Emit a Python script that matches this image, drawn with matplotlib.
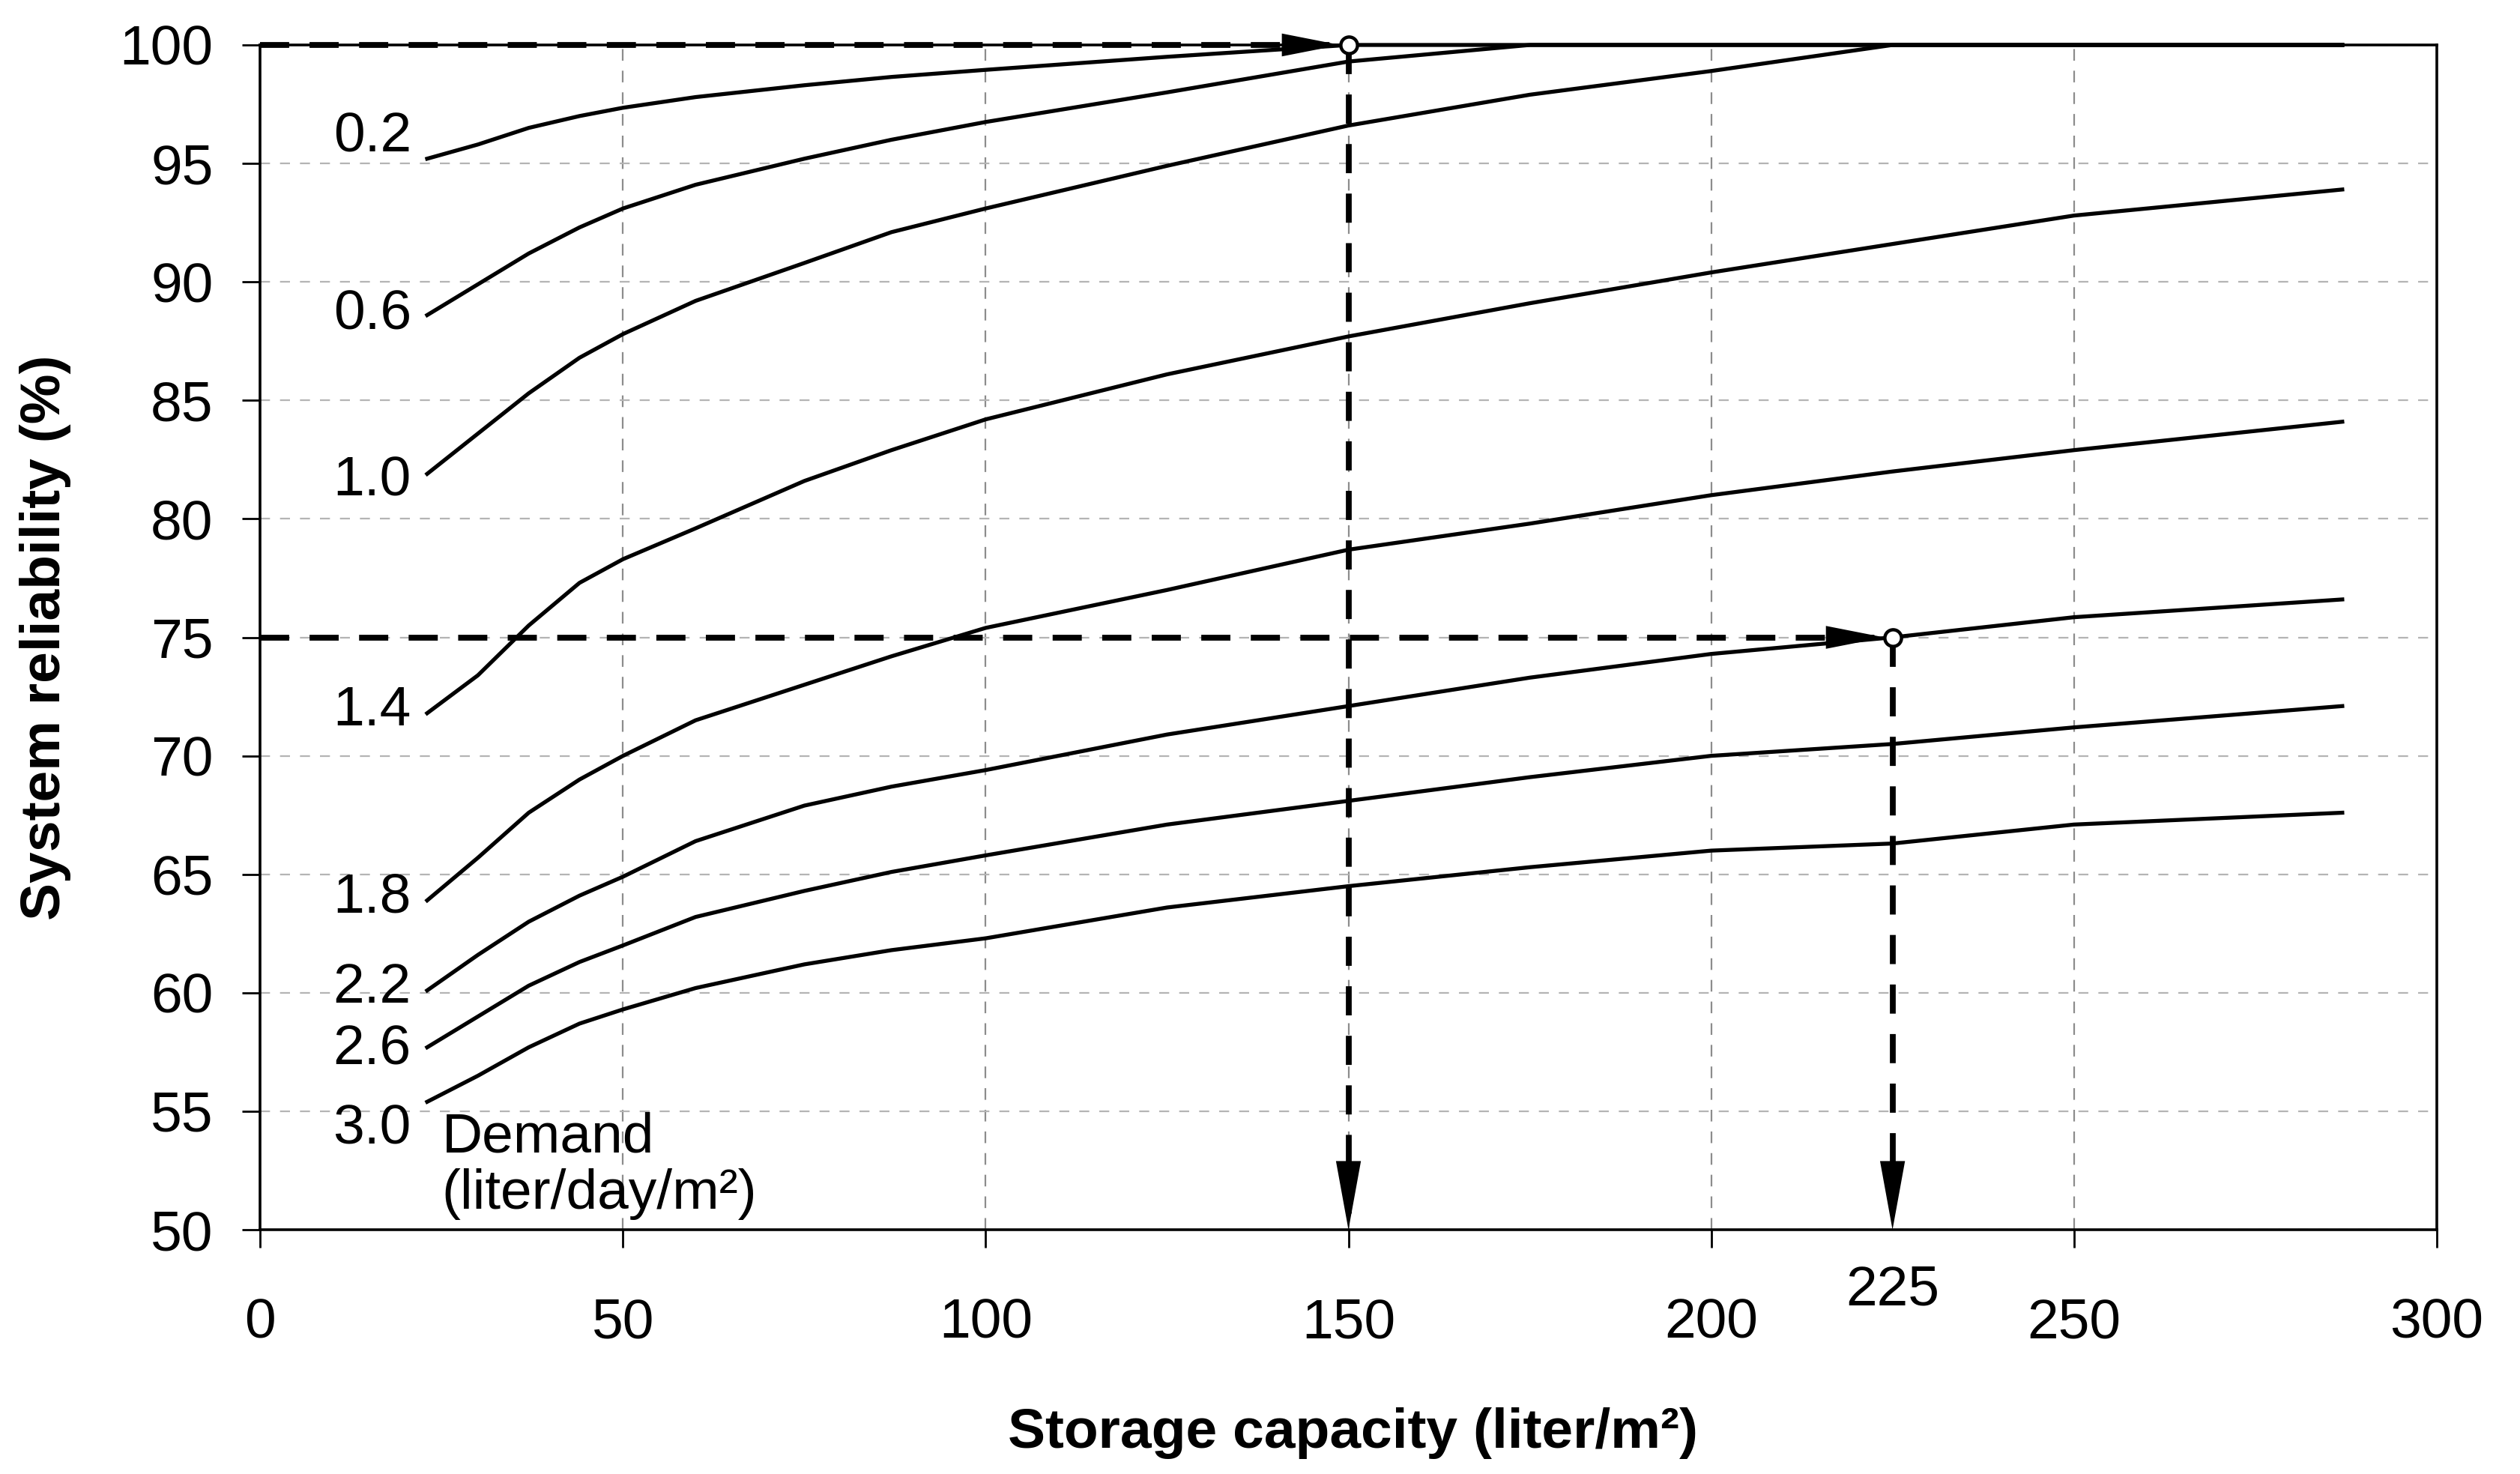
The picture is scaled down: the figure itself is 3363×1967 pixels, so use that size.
import matplotlib.pyplot as plt

plt.rcParams["font.family"] = ["Liberation Sans", "DejaVu Sans"]

# Storage capacity (liter/m2) at which the curves were read
storage = [23, 30, 37, 44, 50, 60, 75, 87, 100, 125, 150, 175, 200, 225, 250, 287]

# System reliability (%) for each daily demand (liter/day/m2)
demand_labels = ["0.2", "0.6", "1.0", "1.4", "1.8", "2.2", "2.6", "3.0"]
rel_02 = [95.2, 95.8, 96.5, 97.0, 97.35, 97.8, 98.3, 98.65, 98.95, 99.5,
          100, 100, 100, 100, 100, 100]
rel_06 = [88.6, 89.9, 91.2, 92.3, 93.1, 94.1, 95.2, 96.0, 96.75, 98.0,
          99.3, 100, 100, 100, 100, 100]
rel_10 = [81.9, 83.6, 85.3, 86.8, 87.8, 89.2, 90.8, 92.1, 93.1, 94.9,
          96.6, 97.9, 98.9, 100, 100, 100]
rel_14 = [71.8, 73.4, 75.5, 77.3, 78.3, 79.6, 81.6, 82.9, 84.2, 86.1,
          87.7, 89.1, 90.4, 91.6, 92.8, 93.9]
rel_18 = [63.9, 65.7, 67.6, 69.0, 70.0, 71.5, 73.0, 74.2, 75.4, 77.0,
          78.7, 79.8, 81.0, 82.0, 82.9, 84.1]
rel_22 = [60.1, 61.6, 63.0, 64.1, 64.9, 66.4, 67.9, 68.7, 69.4, 70.9,
          72.1, 73.3, 74.3, 75.0, 75.85, 76.6]
rel_26 = [57.7, 59.0, 60.3, 61.3, 62.0, 63.2, 64.3, 65.1, 65.8, 67.1,
          68.1, 69.1, 70.0, 70.5, 71.2, 72.1]
rel_30 = [55.4, 56.5, 57.7, 58.7, 59.3, 60.2, 61.2, 61.8, 62.3, 63.6,
          64.5, 65.3, 66.0, 66.3, 67.1, 67.6]
reliability = [rel_02, rel_06, rel_10, rel_14, rel_18, rel_22, rel_26, rel_30]

# where the demand labels sit (y, %)
label_y = [96.1, 88.6, 81.6, 71.9, 64.0, 60.2, 57.6, 54.25]

# the two worked examples: target reliability -> required storage
target_capacity = [150, 225]
target_reliability = [100, 75]

xticks = [0, 50, 100, 150, 200, 250, 300]
yticks = list(range(50, 101, 5))

fig = plt.figure(figsize=(16.815, 9.835), dpi=200)
ax = fig.add_axes([0.1033, 0.1657, 0.8636, 0.8038])

# grid
ax.set_axisbelow(True)
ax.xaxis.grid(True, color="#8c8c8c", lw=0.8, linestyle=(0, (7, 6)))
ax.yaxis.grid(True, color="#b4b4b4", lw=0.8, linestyle=(0, (6, 6)))

# demand curves
for rel, lab, ly in zip(reliability, demand_labels, label_y):
    ax.plot(storage, rel, color="k", lw=1.9, zorder=3, clip_on=False,
            solid_joinstyle="round")
    ax.text(20.8, ly, lab, ha="right", va="center", fontsize=27)

ax.text(25.0, 53.9, "Demand", ha="left", va="center", fontsize=27)
ax.text(25.0, 51.5, "(liter/day/m²)", ha="left", va="center", fontsize=27)

# worked examples: dashed guide lines with arrows
for xc, yc in zip(target_capacity, target_reliability):
    ax.plot([0, xc], [yc, yc], color="k", lw=2.8, dashes=(5, 3.5),
            zorder=4, clip_on=False)
    ax.plot([xc, xc], [yc, 50], color="k", lw=2.8, dashes=(5, 3.5),
            zorder=4, clip_on=False)
    ax.annotate("", xy=(xc, yc), xytext=(xc - 12, yc),
                arrowprops=dict(arrowstyle="-|>,head_length=2.8,head_width=0.55",
                                mutation_scale=10, color="k", lw=0,
                                shrinkA=0, shrinkB=4), zorder=5)
    ax.annotate("", xy=(xc, 50), xytext=(xc, 57),
                arrowprops=dict(arrowstyle="-|>,head_length=3.3,head_width=0.6",
                                mutation_scale=10, color="k", lw=0,
                                shrinkA=0, shrinkB=0), zorder=5)
    ax.plot(xc, yc, "o", ms=8, mfc="white", mec="k", mew=1.6,
            zorder=6, clip_on=False)
    if xc not in xticks:
        ax.text(xc, -0.051, str(xc), transform=ax.get_xaxis_transform(),
                ha="center", va="center", fontsize=27)

ax.set_xlim(0, 300)
ax.set_ylim(50, 100)
ax.set_xticks(xticks)
ax.set_yticks(yticks)
ax.tick_params(direction="out", length=8.6, width=1.0, labelsize=27)
ax.tick_params(axis="x", pad=24)
ax.tick_params(axis="y", pad=14)
for s in ax.spines.values():
    s.set_linewidth(1.3)
    s.set_color("k")

ax.set_xlabel("Storage capacity (liter/m²)", fontsize=27, fontweight="bold")
ax.set_ylabel("System reliability (%)", fontsize=27, fontweight="bold")
ax.xaxis.set_label_coords(0.502, -0.15)
ax.yaxis.set_label_coords(-0.087, 0.5)

fig.savefig("out.png", dpi=200, facecolor="white")
